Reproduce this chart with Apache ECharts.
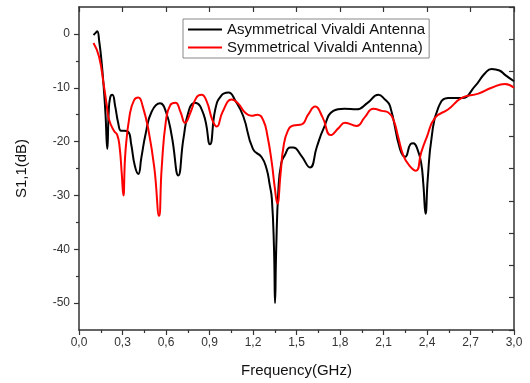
<!DOCTYPE html>
<html lang="en">
<head>
    <meta charset="UTF-8">
    <script type="text/javascript" src="https://cdn.jsdelivr.net/npm/echarts@6/dist/echarts.min.js"></script>
    <title>S11</title>
</head>
<body style="margin:0;background:#fff;">
<div id="chart" style="width: 530px;height:383px;"></div>
<script type="text/javascript">
    // 读图得到的数据 (GHz, dB)
    var freqAsym = [0.10, 0.115, 0.126, 0.14, 0.155, 0.17, 0.183, 0.195, 0.205, 0.215, 0.23, 0.25, 0.27, 0.29, 0.31, 0.34, 0.36, 0.385, 0.409, 0.43, 0.46, 0.50, 0.559, 0.60, 0.64, 0.685, 0.72, 0.76, 0.80, 0.86, 0.903, 0.94, 0.98, 1.03, 1.08, 1.133, 1.20, 1.26, 1.294, 1.315, 1.33, 1.345, 1.352, 1.36, 1.375, 1.395, 1.42, 1.455, 1.478, 1.53, 1.593, 1.64, 1.685, 1.754, 1.83, 1.915, 1.99, 2.064, 2.11, 2.145, 2.214, 2.25, 2.285, 2.306, 2.335, 2.36, 2.375, 2.39, 2.405, 2.432, 2.478, 2.547, 2.64, 2.731, 2.80, 2.846, 2.90, 2.938, 3.0];
    var s11Asym = [-0.2, 0.2, 0.5, -1.5, -5, -9.7, -15, -21.4, -14.5, -11.8, -11.3, -13.5, -16.5, -18, -18, -18.2, -20.5, -24.5, -26, -23, -18.5, -14.5, -12.9, -14.5, -19, -26.3, -19.5, -14, -12.8, -15, -20.5, -14, -11.5, -10.9, -12.5, -15.3, -21.4, -22.9, -25.1, -28, -30.6, -40, -50, -40, -29, -24, -22.5, -21.1, -21.1, -22.5, -24.8, -21, -17.7, -14.3, -13.9, -14, -12.8, -11.3, -12.2, -13.4, -21.4, -22.8, -20.5, -20.3, -21.5, -24, -28, -33.4, -27, -19.2, -13.7, -11.9, -11.9, -9.7, -7.3, -6.5, -6.8, -7.6, -8.8];

    var freqSym = [0.10, 0.138, 0.172, 0.19, 0.207, 0.241, 0.264, 0.28, 0.295, 0.306, 0.32, 0.35, 0.38, 0.409, 0.44, 0.48, 0.52, 0.552, 0.57, 0.60, 0.63, 0.665, 0.70, 0.731, 0.77, 0.81, 0.845, 0.88, 0.92, 0.95, 0.99, 1.053, 1.10, 1.145, 1.19, 1.23, 1.27, 1.30, 1.33, 1.35, 1.368, 1.39, 1.41, 1.44, 1.478, 1.536, 1.58, 1.628, 1.68, 1.736, 1.79, 1.834, 1.915, 1.97, 2.03, 2.09, 2.133, 2.168, 2.20, 2.237, 2.28, 2.324, 2.36, 2.398, 2.455, 2.547, 2.64, 2.754, 2.846, 2.938, 3.0];
    var s11Sym = [-1.7, -4.2, -9.7, -13, -15.9, -18, -18.8, -21, -26, -30, -22, -15, -12.3, -11.8, -13.5, -18, -25, -33.8, -25, -16, -13.2, -12.8, -14.5, -16.5, -14.5, -11.8, -11.3, -12.5, -16, -17.2, -14.5, -12.2, -13, -14.6, -15.2, -15, -16, -19, -24, -28.5, -31.5, -26, -21, -18, -17, -16.8, -15, -13.5, -15.5, -18.8, -17.5, -16.5, -17.1, -15.5, -13.9, -14.3, -14.6, -15.9, -19, -22.6, -24.5, -25.4, -22, -19.2, -15.6, -14, -11.9, -11.1, -10, -9.3, -10];

    var yMajor = [-50, -40, -30, -20, -10, 0];
    var yMinor = [-45, -35, -25, -15, -5];

    function pairs(xs, ys) {
        return xs.map(function (x, i) { return [x, ys[i]]; });
    }

    var axisColor = '#333';
    var font = 'Liberation Sans, Arial, sans-serif';

    var chart = echarts.init(document.getElementById('chart'));
    chart.setOption({
        animation: false,
        grid: { left: 79, right: 16, top: 7, bottom: 51 },
        legend: {
            left: 183, top: 19,
            orient: 'vertical',
            itemWidth: 34, itemHeight: 2, itemGap: 3,
            padding: [3, 4, 3, 5],
            borderColor: '#888', borderWidth: 1,
            icon: 'rect',
            textStyle: { fontFamily: font, fontSize: 15, color: '#111' },
            data: ['Asymmetrical Vivaldi Antenna', 'Symmetrical Vivaldi Antenna)']
        },
        xAxis: [{
            type: 'value', position: 'bottom',
            min: 0, max: 3, interval: 0.3,
            name: 'Frequency(GHz)', nameLocation: 'middle', nameGap: 33,
            nameTextStyle: { fontFamily: font, fontSize: 15, color: '#111' },
            axisLine: { show: true, onZero: false, lineStyle: { color: axisColor, width: 1.5 } },
            axisTick: { show: true, length: 5, lineStyle: { color: axisColor, width: 1.2 } },
            minorTick: { show: true, splitNumber: 2, length: 3, lineStyle: { color: axisColor, width: 1.2 } },
            axisLabel: {
                margin: 7, fontFamily: font, fontSize: 12, color: '#333',
                formatter: function (v) { return v.toFixed(1).replace('.', ','); }
            },
            splitLine: { show: false }
        }, {
            type: 'value', position: 'top',
            min: 0, max: 3, interval: 0.3,
            axisLine: { show: true, onZero: false, lineStyle: { color: axisColor, width: 1.5 } },
            axisTick: { show: true, inside: true, length: 5, lineStyle: { color: axisColor, width: 1.2 } },
            axisLabel: { show: false },
            splitLine: { show: false }
        }],
        yAxis: [{
            type: 'value', position: 'left',
            min: -55, max: 5,
            name: 'S1,1(dB)', nameLocation: 'middle', nameGap: 50,
            nameTextStyle: { fontFamily: font, fontSize: 15, color: '#111' },
            axisLine: { show: true, onZero: false, lineStyle: { color: axisColor, width: 1.5 } },
            axisTick: { show: true, length: 5, customValues: yMajor, lineStyle: { color: axisColor, width: 1.2 } },
            axisLabel: {
                margin: 9, fontFamily: font, fontSize: 12, color: '#333',
                customValues: yMajor
            },
            splitLine: { show: false }
        }, {
            type: 'value', position: 'left',
            min: -55, max: 5,
            axisLine: { show: false },
            axisTick: { show: true, length: 3, customValues: yMinor, lineStyle: { color: axisColor, width: 1.2 } },
            axisLabel: { show: false },
            splitLine: { show: false }
        }, {
            type: 'value', position: 'right',
            min: 0, max: 10, interval: 1,
            axisLine: { show: true, onZero: false, lineStyle: { color: axisColor, width: 1.5 } },
            axisTick: { show: true, inside: true, length: 5, lineStyle: { color: axisColor, width: 1.2 } },
            axisLabel: { show: false },
            splitLine: { show: false }
        }],
        series: [{
            name: 'Asymmetrical Vivaldi Antenna',
            type: 'line',
            xAxisIndex: 0, yAxisIndex: 0,
            data: pairs(freqAsym, s11Asym),
            showSymbol: false,
            smooth: 0.5,
            color: '#000',
            lineStyle: { color: '#000', width: 2 }
        }, {
            name: 'Symmetrical Vivaldi Antenna)',
            type: 'line',
            xAxisIndex: 0, yAxisIndex: 0,
            data: pairs(freqSym, s11Sym),
            showSymbol: false,
            smooth: 0.5,
            color: '#ff0000',
            lineStyle: { color: '#ff0000', width: 2 }
        }]
    });
</script>
</body>
</html>
